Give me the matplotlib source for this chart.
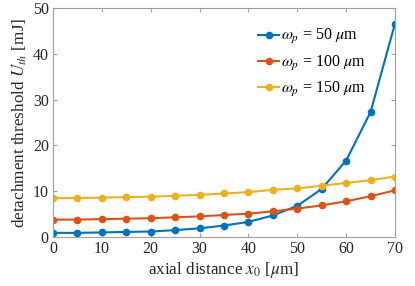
import numpy as np
import matplotlib
matplotlib.use("Agg")
import matplotlib.pyplot as plt

plt.rcParams['font.family'] = ['Liberation Serif', 'DejaVu Serif']
plt.rcParams['mathtext.fontset'] = 'stix'

x0 = [0, 5, 10, 15, 20, 25, 30, 35, 40, 45, 50, 55, 60, 65, 70]
u_50 = [0.9, 0.9, 1.0, 1.1, 1.2, 1.5, 1.9, 2.5, 3.3, 4.7, 6.8, 10.5, 16.7, 27.3, 46.6]
u_100 = [3.8, 3.8, 3.9, 4.0, 4.1, 4.3, 4.5, 4.8, 5.1, 5.6, 6.2, 6.9, 7.8, 8.9, 10.2]
u_150 = [8.5, 8.5, 8.6, 8.7, 8.8, 9.0, 9.2, 9.5, 9.8, 10.3, 10.6, 11.2, 11.8, 12.4, 13.2]
labels = [r'$\omega_p$ = 50 $\mu$m', r'$\omega_p$ = 100 $\mu$m', r'$\omega_p$ = 150 $\mu$m']
colors = ['#0072BD', '#D95319', '#EDB120']

fig = plt.figure(figsize=(4.15, 2.86), dpi=100)
ax = fig.add_axes([53/415, 1 - 237/286, (395-53)/415, (237-8)/286])

for y, lab, c in zip([u_50, u_100, u_150], labels, colors):
    ax.plot(x0, y, '-o', color=c, lw=1.5, ms=4.5, label=lab)

ax.set_xlim(0, 70)
ax.set_ylim(0, 50)
ax.set_xticks(range(0, 71, 10))
ax.set_yticks(range(0, 51, 10))
for s in ax.spines.values():
    s.set_color('#a0a0a0')
ax.tick_params(direction='in', top=True, right=True, colors='#a0a0a0',
               labelcolor='#262626', labelsize=11.5, length=3, pad=3)
ax.set_xlabel(r'axial distance $x_0$ [$\mu$m]', fontsize=12.3, color='#262626', labelpad=2)
ax.set_ylabel(r'detachment threshold $U_{th}$ [mJ]', fontsize=12.3, color='#262626', labelpad=3)
ax.legend(loc='upper left', bbox_to_anchor=(0.6, 0.915), frameon=False,
          fontsize=11.5, handlelength=1.3, handletextpad=0.15, labelspacing=0.45,
          borderaxespad=0, borderpad=0)

fig.savefig('out.png', dpi=100)
